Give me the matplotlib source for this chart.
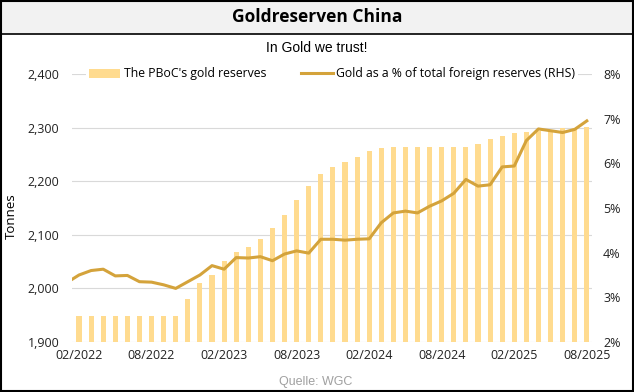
import numpy as np
import matplotlib.pyplot as plt
from matplotlib.patches import Rectangle
from matplotlib.lines import Line2D

# monthly data 02/2022 - 08/2025
months = ['02/2022', '03/2022', '04/2022', '05/2022', '06/2022', '07/2022', '08/2022',
          '09/2022', '10/2022', '11/2022', '12/2022', '01/2023', '02/2023', '03/2023',
          '04/2023', '05/2023', '06/2023', '07/2023', '08/2023', '09/2023', '10/2023',
          '11/2023', '12/2023', '01/2024', '02/2024', '03/2024', '04/2024', '05/2024',
          '06/2024', '07/2024', '08/2024', '09/2024', '10/2024', '11/2024', '12/2024',
          '01/2025', '02/2025', '03/2025', '04/2025', '05/2025', '06/2025', '07/2025',
          '08/2025']

tonnes = [1948.3, 1948.3, 1948.3, 1948.3, 1948.3, 1948.3, 1948.3, 1948.3, 1948.3,
          1980.4, 2010.5, 2025.4, 2050.3, 2068.4, 2076.5, 2092.4, 2113.3, 2136.7,
          2165.3, 2191.4, 2214.1, 2226.6, 2235.4, 2244.8, 2256.6, 2261.9, 2264.3,
          2264.3, 2264.3, 2264.3, 2264.3, 2264.3, 2264.3, 2269.3, 2279.6, 2285.0,
          2290.0, 2292.3, 2294.5, 2296.4, 2298.5, 2299.2, 2301.2]

# share of gold in total foreign reserves (%), series starts 01/2022
share_start = -1
share = [3.33, 3.50, 3.60, 3.63, 3.48, 3.49, 3.35, 3.34, 3.28, 3.20, 3.35, 3.50,
         3.71, 3.63, 3.89, 3.88, 3.91, 3.82, 3.97, 4.04, 3.99, 4.30, 4.30, 4.28,
         4.30, 4.31, 4.67, 4.89, 4.93, 4.89, 5.04, 5.16, 5.33, 5.64, 5.49, 5.52,
         5.92, 5.94, 6.51, 6.77, 6.73, 6.69, 6.76, 6.95]

tick_labels = ['02/2022', '08/2022', '02/2023', '08/2023', '02/2024',
               '08/2024', '02/2025', '08/2025']

bar_col = '#FFDB8F'
line_col = '#D4A33B'
W, H = 634, 392

fig = plt.figure(figsize=(W / 100, H / 100), dpi=100)
plt.rcParams['font.family'] = ['Open Sans', 'DejaVu Sans']

# title band + outer frame
fig.patches.append(Rectangle((0, 1 - 34 / H), 1, 34 / H, transform=fig.transFigure,
                             facecolor='#F2F2F2', edgecolor='none', zorder=0))
fig.lines.append(Line2D([0, 1], [1 - 34 / H, 1 - 34 / H], transform=fig.transFigure,
                        color='black', lw=1.2))
fig.patches.append(Rectangle((0.001, 0.002), 0.997, 0.996, transform=fig.transFigure,
                             facecolor='none', edgecolor='black', lw=1.5, zorder=5))
fig.text(0.5, 1 - 17 / H, 'Goldreserven China', ha='center', va='center',
         fontsize=12.5, fontweight='bold')
fig.text(0.5, 1 - 48 / H, 'In Gold we trust!', ha='center', va='center',
         fontsize=10, family='Liberation Sans')
fig.text(316 / W, 1 - 382 / H, 'Quelle: WGC', ha='center', va='center',
         fontsize=9, color='#A0A0A0', family='Liberation Sans')

ax = fig.add_axes([72 / W, 50 / H, 520 / W, 268 / H])
x = np.arange(len(months))
bars = ax.bar(x, tonnes, width=0.42, color=bar_col, label="The PBoC's gold reserves",
              zorder=2)
ax.set_ylim(1900, 2400)
ax.set_yticks(range(1900, 2401, 100))
ax.set_yticklabels([f'{v:,}' for v in range(1900, 2401, 100)])
ax.set_xlim(-0.58, 42.43)
ax.set_xticks(x[::6])
ax.set_xticklabels(tick_labels)
ax.grid(axis='y', color='#D9D9D9', lw=0.8, zorder=0)
ax.set_axisbelow(True)
for s in ax.spines.values():
    s.set_visible(False)
ax.tick_params(length=0, labelsize=9, colors='#222222', pad=9)
ax.tick_params(axis='x', pad=5)
ax.set_ylabel('Tonnes', fontsize=9.5)
ax.yaxis.set_label_coords(-0.104, 0.47)

ax2 = ax.twinx()
xs = np.arange(share_start, share_start + len(share))
ln, = ax2.plot(xs, share, color=line_col, lw=2.2, label='Gold as a % of total foreign reserves (RHS)',
               zorder=3, solid_joinstyle='round')
ax2.set_ylim(2, 8)
ax2.set_yticks(range(2, 9))
ax2.set_yticklabels([f'{v}%' for v in range(2, 9)])
for s in ax2.spines.values():
    s.set_visible(False)
ax2.tick_params(length=0, labelsize=9, colors='#222222', pad=8)
ax2.set_xlim(-0.58, 42.43)

leg = ax2.legend([bars, ln], [bars.get_label(), ln.get_label()], loc='center',
                 bbox_to_anchor=(0.5, 1.0), ncol=2, frameon=True, fontsize=8.8,
                 handlelength=2.6, columnspacing=2.8, handletextpad=0.3,
                 borderpad=0.2)
leg.get_frame().set_facecolor('white')
leg.get_frame().set_edgecolor('none')
leg.get_frame().set_alpha(1)

fig.savefig('out.png', dpi=100)
